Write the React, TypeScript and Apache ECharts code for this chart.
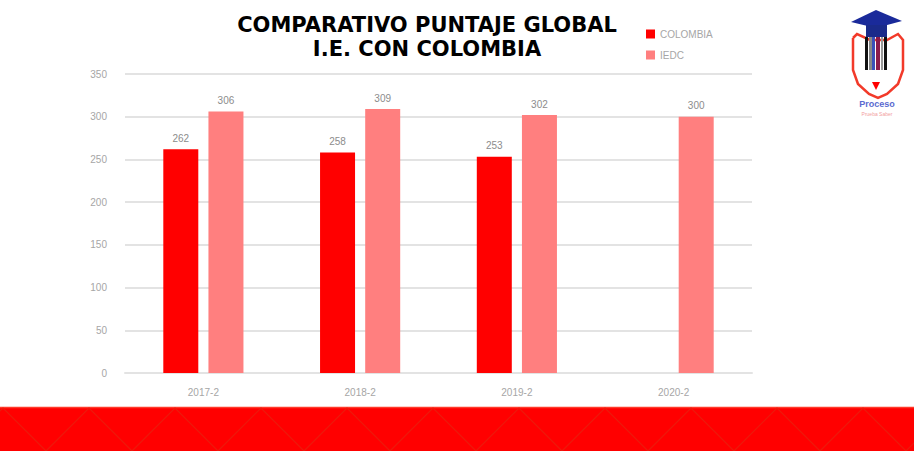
import React, { useEffect, useRef } from "react";
import * as echarts from "echarts";

const categories = ["2017-2", "2018-2", "2019-2", "2020-2"];
const colombia: (number | null)[] = [262, 258, 253, null];
const institucion: number[] = [306, 309, 302, 300];
const seriesNames = ["COLOMBIA", "IEDC"];
const titleLines = ["COMPARATIVO PUNTAJE GLOBAL", "I.E. CON COLOMBIA"];

export default function App() {
  const ref = useRef<HTMLDivElement>(null);
  useEffect(() => {
    if (!ref.current) return;
    const chart = echarts.init(ref.current, null, { renderer: "svg" });
    const W = 914;
    const zig: number[][] = [];
    for (let x = -40, i = 0; x <= W + 90; x += 43, i++) {
      zig.push([x, i % 2 === 0 ? 451 : 408]);
    }
    const labelFont = "Liberation Sans Narrow, Liberation Sans";
    chart.setOption({
      animation: false,
      backgroundColor: "#ffffff",
      title: {
        text: titleLines.join("\n"),
        left: 422,
        textAlign: "center",
        top: 8,
        textStyle: {
          fontFamily: "DejaVu Sans",
          fontWeight: 900,
          fontSize: 21,
          lineHeight: 24,
          color: "#000000",
        },
      },
      legend: {
        orient: "vertical",
        left: 641,
        top: 24,
        itemWidth: 9,
        itemHeight: 9,
        itemGap: 11,
        icon: "rect",
        textStyle: { color: "#a6a6a6", fontSize: 10, fontFamily: labelFont },
      },
      grid: { left: 125, right: 162, top: 74, bottom: 78 },
      xAxis: {
        type: "category",
        data: categories,
        axisLine: { lineStyle: { color: "#e3e3e3", width: 2 } },
        axisTick: { show: false },
        axisLabel: { color: "#a6a6a6", fontSize: 10, margin: 14, fontFamily: labelFont },
      },
      yAxis: {
        type: "value",
        min: 0,
        max: 350,
        interval: 50,
        axisLine: { show: false },
        axisTick: { show: false },
        splitLine: { lineStyle: { color: "#e3e3e3", width: 2 } },
        axisLabel: { color: "#a6a6a6", fontSize: 10, margin: 18, fontFamily: labelFont },
      },
      series: [
        {
          name: seriesNames[0],
          type: "bar",
          data: colombia,
          barWidth: 35,
          barGap: "29%",
          itemStyle: { color: "#ff0000" },
          label: { show: true, position: "top", distance: 6, color: "#8c8c8c", fontSize: 10, fontFamily: labelFont },
        },
        {
          name: seriesNames[1],
          type: "bar",
          data: institucion,
          barWidth: 35,
          itemStyle: { color: "#ff7f7f" },
          label: { show: true, position: "top", distance: 6, color: "#8c8c8c", fontSize: 10, fontFamily: labelFont },
        },
      ],
      graphic: [
        { type: "rect", shape: { x: 0, y: 407, width: W, height: 44 }, style: { fill: "#ff0000" }, z: 10 },
        { type: "line", shape: { x1: 0, y1: 407.5, x2: W, y2: 407.5 }, style: { stroke: "#ff3a2a", lineWidth: 1.5 }, z: 11 },
        { type: "polyline", shape: { points: zig }, style: { stroke: "#ec1a0c", lineWidth: 1.2, fill: "none" }, z: 11 },
        {
          type: "group",
          z: 12,
          children: [
            { type: "polyline", shape: { points: [[853, 38], [857, 34], [870, 40], [887, 40], [898, 34], [903, 40], [903, 70], [898, 84], [887, 94], [878, 98], [869, 94], [858, 84], [853, 70], [853, 38]] }, style: { stroke: "#f23a2a", lineWidth: 2.5, fill: "none" } },
            { type: "rect", shape: { x: 865, y: 37, width: 3, height: 33 }, style: { fill: "#111" } },
            { type: "rect", shape: { x: 869, y: 37, width: 3, height: 33 }, style: { fill: "#888" } },
            { type: "rect", shape: { x: 872, y: 37, width: 3, height: 33 }, style: { fill: "#3a50b8" } },
            { type: "rect", shape: { x: 876, y: 37, width: 4, height: 33 }, style: { fill: "#8b1a4a" } },
            { type: "rect", shape: { x: 881, y: 37, width: 2, height: 33 }, style: { fill: "#999" } },
            { type: "rect", shape: { x: 884, y: 37, width: 3, height: 33 }, style: { fill: "#111" } },
            { type: "polygon", shape: { points: [[851, 22], [876, 10], [902, 21], [876, 28]] }, style: { fill: "#1a2a9a" } },
            { type: "polygon", shape: { points: [[866, 25], [887, 25], [887, 37], [866, 37]] }, style: { fill: "#1a2a8a" } },
            { type: "polygon", shape: { points: [[872, 82], [880, 82], [876, 90]] }, style: { fill: "#ff0000" } },
            { type: "text", x: 877, y: 104, style: { text: "Proceso", fill: "#5a6ad0", fontSize: 9, fontWeight: "bold", fontFamily: "Liberation Sans", align: "center", verticalAlign: "middle" } },
            { type: "text", x: 877, y: 114, style: { text: "Prueba Saber", fill: "#f2a0a0", fontSize: 5, fontFamily: "Liberation Sans", align: "center", verticalAlign: "middle" } },
          ],
        },
      ],
    });
    return () => chart.dispose();
  }, []);
  return <div ref={ref} style={{ position: "fixed", left: 0, top: 0, width: 914, height: 451 }} />;
}
